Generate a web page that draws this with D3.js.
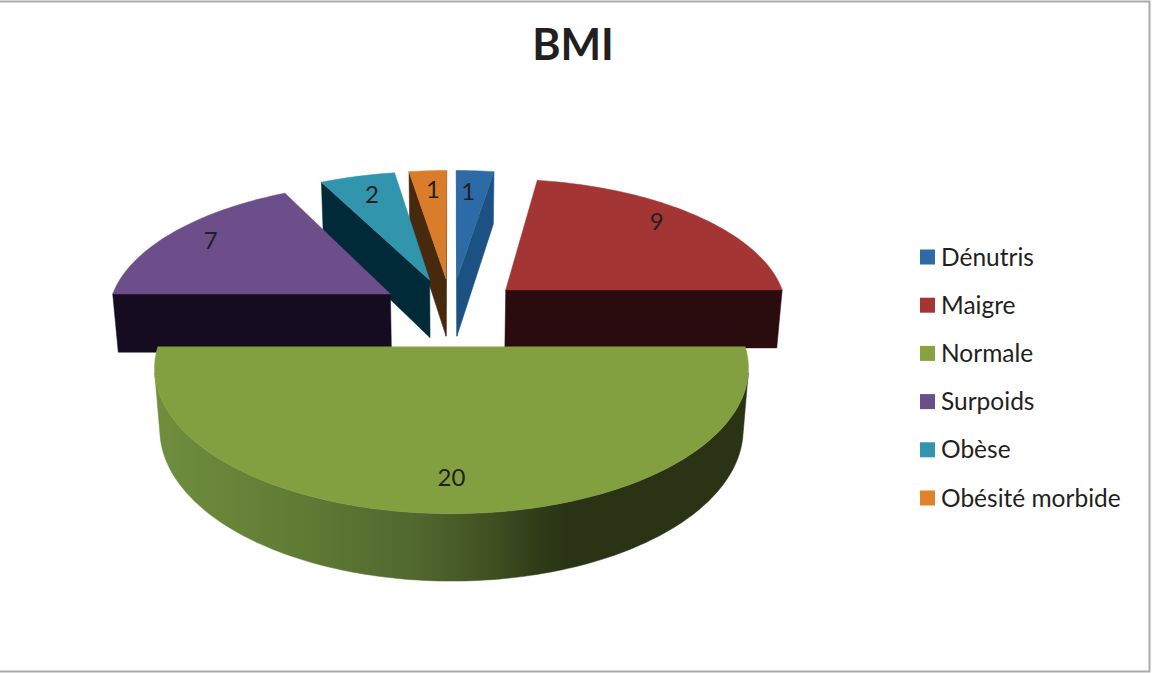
<!DOCTYPE html>
<html>
<head>
<meta charset="utf-8">
<script src="https://cdn.jsdelivr.net/npm/d3@7"></script>
<style>
  html, body { margin: 0; padding: 0; background: #fff; }
  svg { display: block; }
  text { font-family: Lato, "Open Sans", sans-serif; fill: #231f20; }
</style>
</head>
<body>
<div id="chart"></div>
<script>
// --- Data ---
const categories = ["Dénutris", "Maigre", "Normale", "Surpoids", "Obèse", "Obésité morbide"];
const values = [1, 9, 20, 7, 2, 1];
const topColors = ["#2d6ba6", "#a33634", "#83a041", "#6b4e8a", "#3195ae", "#d97d2b"];
const wallColors = ["#1c5283", "#2b0c0e", "#2a3415", "#150c22", "#002a38", "#47290d"];
const legendColors = ["#2d6ba6", "#a33634", "#86a340", "#6b4e8a", "#3195ae", "#e0812b"];
const chartTitle = "BMI";

// --- Chart configuration ---
const width = 1153, height = 673;
const centerX = 451.5, centerY = 311.5;
const radius = 283, explode = 73;
const persp = 0.0005, tilt = 0.4668;    // perspective and flattening of the ground plane
const depth = 60, depthShrink = 0.017;  // thickness of the pie
const labelRatio = 0.81;
// small hand tweaks of the value labels, the original does not sit exactly on the bisector
const labelShift = { "Dénutris": [-4, 2], "Maigre": [-4, -6], "Surpoids": [-2, -3], "Obèse": [2, 0], "Obésité morbide": [2, 0], "Normale": [0, 0] };

const svg = d3.select("#chart").append("svg")
    .attr("width", width)
    .attr("height", height);

// wall shading of the big slice
const wallStops = [
    [0, "#708e3d"], [0.25, "#5f7b34"], [0.45, "#50662e"],
    [0.58, "#3d4e20"], [0.64, "#303d19"], [0.69, "#2a3415"], [1, "#2a3415"]
];
const grad = svg.append("defs").append("linearGradient")
    .attr("id", "wall-normale")
    .attr("gradientUnits", "userSpaceOnUse")
    .attr("x1", 154).attr("x2", 749).attr("y1", 0).attr("y2", 0);
grad.selectAll("stop").data(wallStops).enter().append("stop")
    .attr("offset", d => d[0])
    .attr("stop-color", d => d[1]);

// --- Projection: ground point (gx, gy) at height level z (0 top, 1 bottom) ---
function project(gx, gy, z) {
    const s = 1 / (1 - persp * gy + depthShrink * z);
    return [centerX + gx * s, centerY + s * (tilt * gy + depth * z)];
}

const pie = d3.pie().value(d => d.value).sort(null);
const slices = pie(categories.map((c, i) => ({ category: c, value: values[i], index: i })));

slices.forEach(d => {
    d.mid = (d.startAngle + d.endAngle) / 2;
    d.ox = explode * Math.sin(d.mid);
    d.oy = -explode * Math.cos(d.mid);
});

// ground point of a slice, r in radius units, a clockwise from the top
const ground = (d, r, a) => [d.ox + r * radius * Math.sin(a), d.oy - r * radius * Math.cos(a)];
const line = d3.line();
// d3.polygonArea is positive for faces winding towards the viewer here
const facesViewer = pts => d3.polygonArea(pts) > 0;

function arcAngles(d) {
    const n = Math.max(4, Math.ceil((d.endAngle - d.startAngle) / 0.02));
    return d3.range(n + 1).map(i => d.startAngle + (d.endAngle - d.startAngle) * i / n);
}

function drawWall(d, pts, fill) {
    svg.append("path")
        .attr("d", line(pts) + "Z")
        .attr("fill", fill)
        .attr("stroke", fill)
        .attr("stroke-width", 0.5);
}

function drawSlice(d) {
    const i = d.data.index;
    const wall = d.data.category === "Normale" ? "url(#wall-normale)" : wallColors[i];
    const angles = arcAngles(d);
    const apex = [d.ox, d.oy];
    const rim = angles.map(a => ground(d, 1, a));
    const top = g => project(g[0], g[1], 0);
    const bot = g => project(g[0], g[1], 1);

    // straight cut faces, kept only when they turn towards the viewer
    [[apex, rim[0]], [rim[rim.length - 1], apex]].forEach(([a, b]) => {
        const quad = [top(a), top(b), bot(b), bot(a)];
        if (facesViewer(quad)) drawWall(d, quad, wallColors[i]);
    });

    // curved outer face, only the visible run of samples
    const visible = [];
    for (let k = 0; k < rim.length - 1; k++) {
        const quad = [top(rim[k]), top(rim[k + 1]), bot(rim[k + 1]), bot(rim[k])];
        if (facesViewer(quad)) visible.push(rim[k], rim[k + 1]);
    }
    if (visible.length) {
        drawWall(d, visible.map(top).concat(visible.slice().reverse().map(bot)), wall);
    }

    // top face
    svg.append("path")
        .attr("d", line([apex].concat(rim).map(top)) + "Z")
        .attr("fill", topColors[i])
        .attr("stroke", topColors[i])
        .attr("stroke-width", 0.5);
}

// back slices first
slices.slice().sort((a, b) => Math.cos(b.mid) - Math.cos(a.mid)).forEach(drawSlice);

// --- Value labels ---
svg.selectAll(".value-label").data(slices).enter()
  .append("text").attr("class", "value-label")
    .attr("transform", d => {
        const g = ground(d, labelRatio, d.mid);
        const p = project(g[0], g[1], 0);
        const shift = labelShift[d.data.category];
        return `translate(${p[0] + shift[0]}, ${p[1] + shift[1]})`;
    })
    .attr("text-anchor", "middle")
    .attr("dy", "0.35em")
    .style("font-size", "24px")
    .text(d => d.data.value);

// --- Title ---
svg.append("text")
    .attr("x", 573).attr("y", 60)
    .attr("text-anchor", "middle")
    .style("font-size", "43px")
    .style("font-weight", "700")
    .text(chartTitle);

// --- Legend ---
const legendY = d3.scalePoint().domain(categories).range([257, 498]);
const legend = svg.selectAll(".legend-item").data(categories).enter()
  .append("g").attr("class", "legend-item")
    .attr("transform", d => `translate(920, ${legendY(d)})`);
legend.append("rect")
    .attr("y", -7.5)
    .attr("width", 15).attr("height", 15)
    .attr("fill", (d, i) => legendColors[i]);
legend.append("text")
    .attr("x", 21)
    .attr("dy", "0.35em")
    .style("font-size", "24.5px")
    .text(d => d);

// --- Frame ---
const framePts = [[0, 1.5], [1149.5, 1.5], [1149.5, 671.5], [0, 671.5]];
svg.append("path")
    .attr("d", line(framePts))
    .attr("fill", "none")
    .attr("stroke", "#ababab")
    .attr("stroke-width", 2);
</script>
</body>
</html>
